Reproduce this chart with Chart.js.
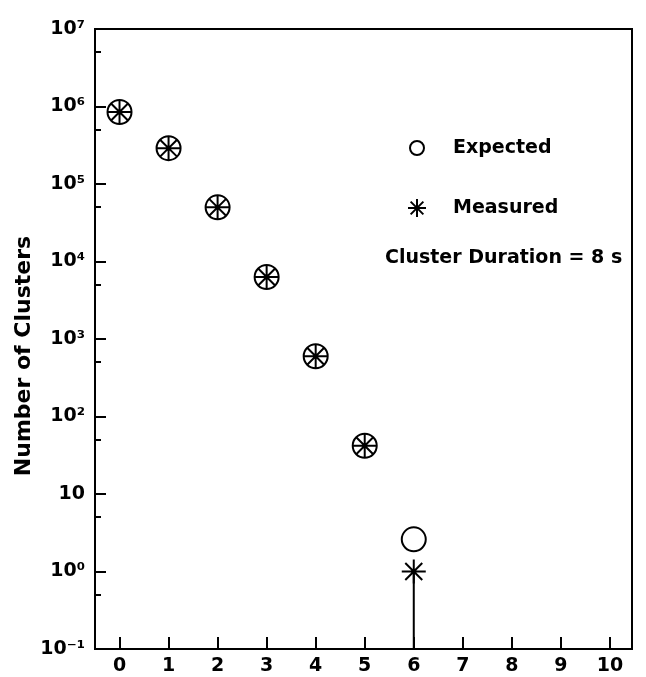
<!DOCTYPE html>
<html>
<head>
<meta charset="utf-8">
<script src="https://cdn.jsdelivr.net/npm/chart.js@4.4.0/dist/chart.umd.min.js"></script>
<style>
    html, body { margin: 0; padding: 0; background: #fff; }
</style>
</head>
<body>
<canvas id="clusterChart" width="646" height="677"></canvas>
<script>
// cluster size (x) and counts (log y)
const clusterSizes = [0, 1, 2, 3, 4, 5, 6];
const expectedCounts = [8.5e5, 2.9e5, 5.0e4, 6.3e3, 600, 42, 2.6];
const measuredCounts = [8.5e5, 2.9e5, 5.0e4, 6.3e3, 600, 42, 1.0];
// lower error bar on the last measured point runs off the axis
const errorBarSize = 6;
const errorBarRange = [1.0, 0.1];

const xTickValues = [0, 1, 2, 3, 4, 5, 6, 7, 8, 9, 10];
const yTickValues = [0.1, 1, 10, 1e2, 1e3, 1e4, 1e5, 1e6, 1e7];
const yTickLabels = ['10⁻¹', '10⁰', '10', '10²', '10³', '10⁴', '10⁵', '10⁶', '10⁷'];
const yMinorValues = [0.5, 5, 50, 500, 5e3, 5e4, 5e5, 5e6];

const seriesNames = ['Expected', 'Measured'];
const noteText = 'Cluster Duration = 8 s';
const yTitle = 'Number of Clusters';

const FONT = "'DejaVu Sans', sans-serif";

const framePlugin = {
    id: 'frameAndTicks',
    afterDraw(chart) {
        const ctx = chart.ctx;
        const area = chart.chartArea;
        const xs = chart.scales.x;
        const ys = chart.scales.y;
        ctx.save();
        ctx.strokeStyle = '#000';
        ctx.lineWidth = 2;
        ctx.strokeRect(area.left, area.top, area.right - area.left, area.bottom - area.top);

        // inward tick marks
        ctx.beginPath();
        yTickValues.forEach(v => {
            const y = Math.round(ys.getPixelForValue(v));
            ctx.moveTo(area.left, y);
            ctx.lineTo(area.left + 11, y);
        });
        yMinorValues.forEach(v => {
            const y = Math.round(ys.getPixelForValue(v));
            ctx.moveTo(area.left, y);
            ctx.lineTo(area.left + 6, y);
        });
        xTickValues.forEach(v => {
            const x = Math.round(xs.getPixelForValue(v));
            ctx.moveTo(x, area.bottom);
            ctx.lineTo(x, area.bottom - 12);
        });
        ctx.stroke();

        // legend
        const lx = 417;
        ctx.lineWidth = 2;
        ctx.beginPath();
        ctx.arc(lx, 148, 7, 0, Math.PI * 2);
        ctx.stroke();

        const sy = 208, r = 9, d = r * Math.SQRT1_2;
        ctx.beginPath();
        ctx.moveTo(lx - r, sy); ctx.lineTo(lx + r, sy);
        ctx.moveTo(lx, sy - r); ctx.lineTo(lx, sy + r);
        ctx.moveTo(lx - d, sy - d); ctx.lineTo(lx + d, sy + d);
        ctx.moveTo(lx - d, sy + d); ctx.lineTo(lx + d, sy - d);
        ctx.stroke();

        ctx.fillStyle = '#000';
        ctx.font = 'bold 19px ' + FONT;
        ctx.textBaseline = 'middle';
        ctx.textAlign = 'left';
        ctx.fillText(seriesNames[0], 453, 148);
        ctx.fillText(seriesNames[1], 453, 208);
        ctx.fillText(noteText, 385, 258);

        // y axis title, sits a little below the axis centre
        ctx.translate(24, 356);
        ctx.rotate(-Math.PI / 2);
        ctx.textAlign = 'center';
        ctx.font = 'bold 22px ' + FONT;
        ctx.fillText(yTitle, 0, 0);
        ctx.restore();
    }
};

const ctx = document.getElementById('clusterChart').getContext('2d');
const clusterChart = new Chart(ctx, {
    type: 'scatter',
    data: {
        datasets: [
            {
                type: 'line',
                label: 'error',
                data: errorBarRange.map(v => ({ x: errorBarSize, y: v })),
                borderColor: '#000',
                borderWidth: 2,
                pointRadius: 0,
                fill: false
            },
            {
                label: seriesNames[0],
                data: clusterSizes.map((s, i) => ({ x: s, y: expectedCounts[i] })),
                pointStyle: 'circle',
                pointRadius: 12,
                borderColor: '#000',
                borderWidth: 2,
                backgroundColor: 'rgba(0,0,0,0)'
            },
            {
                label: seriesNames[1],
                data: clusterSizes.map((s, i) => ({ x: s, y: measuredCounts[i] })),
                pointStyle: 'star',
                pointRadius: 12,
                borderColor: '#000',
                borderWidth: 2,
                backgroundColor: 'rgba(0,0,0,0)'
            }
        ]
    },
    options: {
        responsive: false,
        animation: false,
        events: [],
        layout: {
            padding: { top: 29, right: 3, left: 0, bottom: 0 }
        },
        plugins: {
            legend: { display: false },
            tooltip: { enabled: false }
        },
        scales: {
            x: {
                type: 'linear',
                min: -0.5,
                max: 10.45,
                grid: { display: false, drawTicks: false, tickLength: 0 },
                border: { display: false },
                afterBuildTicks: axis => {
                    axis.ticks = xTickValues.map(v => ({ value: v }));
                },
                afterFit: axis => { axis.height = 28; },
                ticks: {
                    autoSkip: false,
                    maxRotation: 0,
                    padding: 6,
                    color: '#000',
                    font: { family: FONT, size: 19, weight: 'bold' }
                }
            },
            y: {
                type: 'logarithmic',
                min: 0.1,
                max: 1e7,
                grid: { display: false, drawTicks: false, tickLength: 0 },
                border: { display: false },
                afterBuildTicks: axis => {
                    axis.ticks = yTickValues.map(v => ({ value: v }));
                },
                afterFit: axis => { axis.width = 95; },
                ticks: {
                    autoSkip: false,
                    padding: 10,
                    color: '#000',
                    font: { family: FONT, size: 19, weight: 'bold' },
                    callback: function(value, index) {
                        return yTickLabels[index];
                    }
                },
                title: { display: false }
            }
        }
    },
    plugins: [framePlugin]
});
</script>
</body>
</html>
